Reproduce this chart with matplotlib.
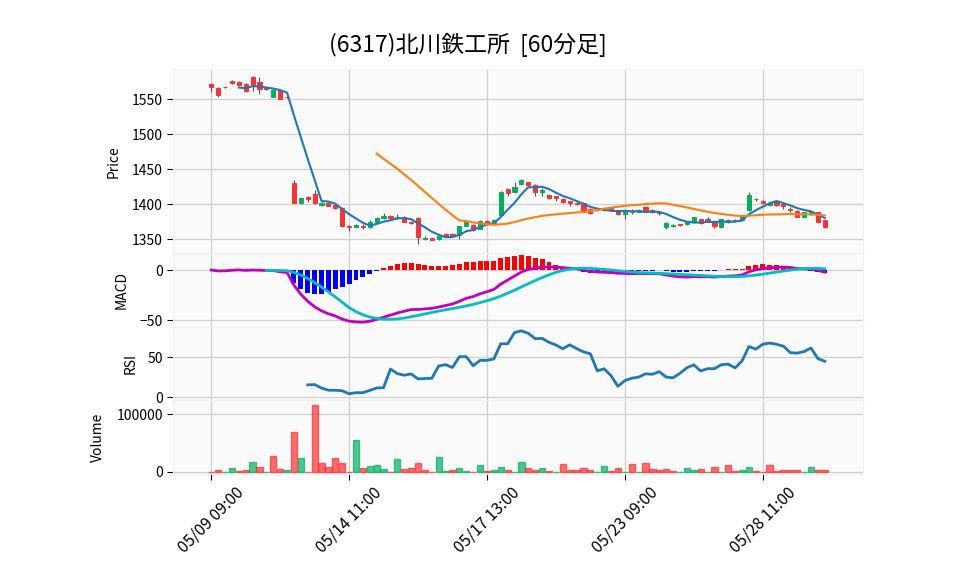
import numpy as np
import pandas as pd
import matplotlib
matplotlib.use('Agg')
import matplotlib.pyplot as plt

plt.rcParams['font.family'] = ['Noto Sans CJK JP', 'DejaVu Sans']

title = '(6317)北川鉄工所  [60分足]'

days = ['05/09', '05/10', '05/13', '05/14', '05/15', '05/16', '05/17', '05/20',
        '05/21', '05/22', '05/23', '05/24', '05/27', '05/28', '05/29']
hours = ['09:00', '10:00', '11:00', '12:00', '13:00', '14:00']

opens = [1572, 1566, 1568, 1576, 1575, 1572, 1582, 1575, 1566, 1554,
         1563, 1554, 1430, 1402, 1410, 1414, 1399, 1401, 1399, 1395,
         1368, 1367, 1369, 1367, 1374, 1380, 1383, 1381, 1382, 1375,
         1380, 1350, 1351, 1350, 1357, 1357, 1356, 1369, 1370, 1365,
         1376, 1373, 1384, 1421, 1417, 1429, 1431, 1428, 1417, 1413,
         1411, 1408, 1404, 1402, 1402, 1393, 1392, 1391, 1394, 1391,
         1386, 1389, 1389, 1396, 1392, 1388, 1367, 1368, 1371, 1371,
         1374, 1378, 1378, 1374, 1367, 1374, 1377, 1377, 1391, 1408,
         1405, 1399, 1404, 1400, 1393, 1390, 1382, 1386, 1388, 1377]
highs = [1574, 1567, 1569, 1578, 1576, 1574, 1583, 1582, 1567, 1565,
         1564, 1555, 1434, 1409, 1411, 1420, 1403, 1402, 1400, 1396,
         1370, 1371, 1371, 1377, 1381, 1387, 1384, 1386, 1383, 1376,
         1381, 1354, 1352, 1355, 1358, 1358, 1369, 1376, 1371, 1377,
         1377, 1378, 1419, 1422, 1431, 1436, 1432, 1429, 1423, 1414,
         1412, 1409, 1405, 1403, 1403, 1394, 1393, 1394, 1395, 1392,
         1391, 1393, 1393, 1397, 1393, 1389, 1374, 1371, 1372, 1375,
         1382, 1379, 1381, 1375, 1378, 1378, 1378, 1384, 1418, 1409,
         1406, 1403, 1405, 1403, 1396, 1391, 1389, 1390, 1389, 1378]
lows = [1561, 1553, 1566, 1572, 1570, 1561, 1562, 1557, 1564, 1553,
        1550, 1552, 1401, 1400, 1403, 1400, 1397, 1397, 1393, 1367,
        1362, 1366, 1365, 1366, 1373, 1379, 1379, 1379, 1374, 1372,
        1343, 1349, 1348, 1349, 1354, 1353, 1350, 1368, 1362, 1364,
        1372, 1372, 1383, 1412, 1416, 1427, 1426, 1412, 1412, 1408,
        1405, 1402, 1398, 1399, 1388, 1386, 1390, 1390, 1391, 1385,
        1378, 1386, 1388, 1388, 1387, 1384, 1365, 1367, 1369, 1370,
        1373, 1372, 1374, 1366, 1366, 1373, 1375, 1376, 1390, 1405,
        1400, 1398, 1398, 1393, 1388, 1382, 1381, 1385, 1373, 1366]
closes = [1568, 1556, 1567, 1573, 1571, 1562, 1571, 1565, 1565, 1564,
          1551, 1553, 1402, 1409, 1408, 1402, 1401, 1398, 1394, 1368,
          1367, 1370, 1367, 1374, 1380, 1383, 1380, 1381, 1375, 1373,
          1353, 1352, 1349, 1354, 1355, 1354, 1368, 1375, 1363, 1376,
          1373, 1377, 1418, 1416, 1425, 1435, 1427, 1417, 1420, 1409,
          1409, 1403, 1401, 1400, 1389, 1387, 1391, 1393, 1392, 1386,
          1390, 1388, 1392, 1389, 1388, 1387, 1373, 1370, 1370, 1374,
          1381, 1373, 1375, 1369, 1378, 1377, 1376, 1383, 1413, 1407,
          1402, 1401, 1399, 1398, 1391, 1382, 1388, 1389, 1375, 1367]
volumes = [0, 3500, 0, 6900, 1700, 2900, 17300, 8700, 0, 27100,
           5200, 2900, 68700, 24300, 0, 116100, 15000, 8700, 24300, 15000,
           0, 55400, 6900, 10400, 12100, 5200, 0, 22500, 5200, 6900,
           15600, 3500, 0, 26000, 1200, 3500, 6900, 1700, 0, 12100,
           1200, 3500, 8700, 3500, 0, 17300, 6900, 3500, 6900, 1700,
           0, 13900, 3500, 3500, 6900, 3500, 0, 10400, 1700, 6900,
           0, 13900, 0, 15600, 5200, 3500, 5200, 1700, 0, 6900,
           3500, 5200, 0, 8700, 0, 12100, 1700, 3500, 8700, 1700,
           0, 12100, 1700, 3500, 3500, 3500, 0, 8700, 3500, 3500]

df = pd.DataFrame({'Open': opens, 'High': highs, 'Low': lows,
                   'Close': closes, 'Volume': volumes})
df['label'] = [d + ' ' + h for d in days for h in hours]
x = np.arange(len(df))

# indicators
ma5 = df['Close'].rolling(5).mean()
ma25 = df['Close'].rolling(25).mean()
exp12 = df['Close'].ewm(span=12, adjust=False).mean()
exp26 = df['Close'].ewm(span=26, adjust=False).mean()
macd = exp12 - exp26
signal = macd.rolling(9).mean()
hist = macd - signal
diff = df['Close'].diff()
gain = diff.clip(lower=0).rolling(14).mean()
loss = (-diff.clip(upper=0)).rolling(14).mean()
rsi = 100 - 100 / (1 + gain / loss)

up_c = '#00b060'
down_c = '#fe3032'
bg = '#fafafa'
grid_c = '#d0d0d0'

fig = plt.figure(figsize=(9.58, 5.75), dpi=100)
L, W = 0.1809, 0.7203
ax1 = fig.add_axes([L, 0.560, W, 0.3195])
ax2 = fig.add_axes([L, 0.4313, W, 0.1287], sharex=ax1)
ax3 = fig.add_axes([L, 0.3043, W, 0.1270], sharex=ax1)
ax4 = fig.add_axes([L, 0.1757, W, 0.1286], sharex=ax1)

for ax in (ax1, ax2, ax3, ax4):
    ax.set_facecolor(bg)
    ax.set_axisbelow(True)
    ax.grid(True, color=grid_c, linewidth=0.9)
    for s in ax.spines.values():
        s.set_color('#f2f2f2')
    ax.tick_params(labelsize=10, length=4, color='black')

# candles
is_up = df['Close'] >= df['Open']
ccol = np.where(is_up, up_c, down_c)
ax1.vlines(x, df['Low'], df['High'], color='#555555', linewidth=0.8, zorder=2)
ax1.bar(x, df['Close'] - df['Open'], bottom=df['Open'], width=0.6,
        color=ccol, edgecolor=ccol, linewidth=0.7, zorder=3)
ax1.plot(x, ma5, color='#1f77b4', linewidth=1.5, zorder=4)
ax1.plot(x, ma25, color='#ff7f0e', linewidth=1.5, zorder=4)
ax1.set_ylim(1330, 1593)
ax1.set_yticks([1350, 1400, 1450, 1500, 1550])
ax1.set_ylabel('Price', fontsize=10, labelpad=8)

# macd
hcol = np.where(hist >= 0, 'red', 'blue')
ax2.bar(x, hist, width=0.72, color=hcol, zorder=2)
ax2.plot(x, macd, color='m', linewidth=2, zorder=3)
ax2.plot(x, signal, color='c', linewidth=2, zorder=3)
ax2.set_ylim(-57, 17)
ax2.set_yticks([-50, 0])
ax2.set_ylabel('MACD', fontsize=10, labelpad=8)

# rsi
ax3.plot(x, rsi, color='#1f77b4', linewidth=2)
ax3.set_ylim(-3.8, 88)
ax3.set_yticks([0, 50])
ax3.set_ylabel('RSI', fontsize=10, labelpad=7)

# volume
prev_up = df['Close'] >= df['Close'].shift(1).fillna(df['Open'])
vcol = np.where(prev_up, up_c, down_c)
ax4.bar(x, df['Volume'], width=0.9, color=vcol, edgecolor=vcol,
        linewidth=1, alpha=0.7)
ax4.set_ylim(-3500, 125000)
ax4.set_yticks([0, 100000])
ax4.set_ylabel('Volume', fontsize=10, labelpad=8)

ax1.set_xlim(-5.5, 94.6)
ticks = x[::20]
ax4.set_xticks(ticks)
ax4.set_xticklabels(df['label'][::20], rotation=45, ha='center',
                    fontsize=11.5)
for ax in (ax1, ax2, ax3):
    ax.tick_params(axis='x', labelbottom=False, length=0)

fig.text(0.4885, 1 - 45 / 575, title, ha='center', va='center', fontsize=16.5)

plt.savefig('out.png', dpi=100)
